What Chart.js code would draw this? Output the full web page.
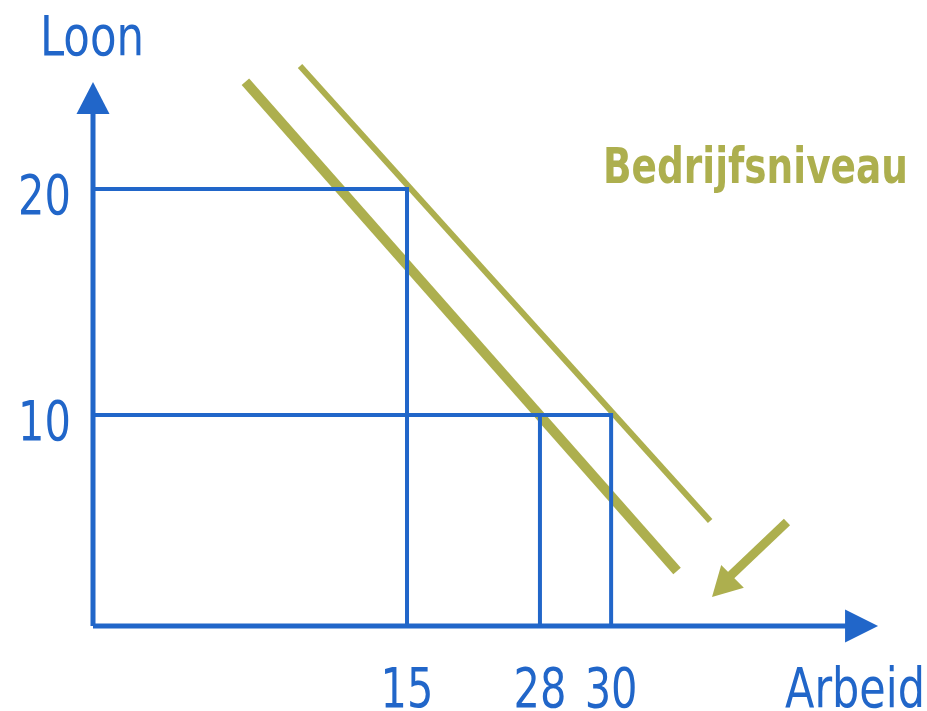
<!DOCTYPE html>
<html>
<head>
<meta charset="utf-8">
<script src="https://cdn.jsdelivr.net/npm/chart.js@4"></script>
<style>
html,body{margin:0;padding:0;background:#fff;}
#wrap{width:927px;height:711px;}
</style>
</head>
<body>
<div id="wrap"><canvas id="c" width="927" height="711"></canvas></div>
<script>
// ---- data (schematic axis units) ----
const xTickLabels = ['15', '28', '30'];
const xTickPos = [15, 21.35, 24.75];
const yTickLabels = ['20', '10'];
const yTickPos = [20, 9.66];
const xAxisTip = 37.5;
const yAxisTip = 24.9;
const demandOld = [{x: 9.89, y: 25.63}, {x: 29.48, y: 4.81}];   // thin line
const demandNew = [{x: 7.28, y: 24.91}, {x: 27.90, y: 2.52}];   // thick line
const shiftStart = {x: 33.15, y: 4.76};
const shiftBase = {x: 30.45, y: 2.3};
const shiftTip = {x: 29.57, y: 1.33};
const axisTitleX = 'Arbeid';
const axisTitleY = 'Loon';
const noteText = 'Bedrijfsniveau';

const BLUE = '#2166c9';
const OLIVE = '#adaf4e';
const FONT = "'Liberation Sans Narrow', 'DejaVu Sans Condensed', 'Roboto', sans-serif";

function seg(a, b) { return [a, b]; }

const datasets = [
  {data: seg({x: 0, y: 0}, {x: xAxisTip - 1, y: 0}), borderColor: BLUE, borderWidth: 5},
  {data: seg({x: 0, y: 0}, {x: 0, y: yAxisTip - 1}), borderColor: BLUE, borderWidth: 5},
  {data: [{x: 0, y: yTickPos[0]}, {x: xTickPos[0], y: yTickPos[0]}, {x: xTickPos[0], y: 0}], borderColor: BLUE, borderWidth: 4},
  {data: [{x: 0, y: yTickPos[1]}, {x: xTickPos[2], y: yTickPos[1]}, {x: xTickPos[2], y: 0}], borderColor: BLUE, borderWidth: 4},
  {data: seg({x: xTickPos[1], y: yTickPos[1]}, {x: xTickPos[1], y: 0}), borderColor: BLUE, borderWidth: 4},
  {data: demandOld, borderColor: OLIVE, borderWidth: 6},
  {data: demandNew, borderColor: OLIVE, borderWidth: 10},
  {data: seg(shiftStart, shiftBase), borderColor: OLIVE, borderWidth: 9}
].map(d => Object.assign({showLine: true, pointRadius: 0, pointHoverRadius: 0, fill: false, tension: 0, borderCapStyle: 'butt', borderJoinStyle: 'miter', clip: false}, d));

function arrowHead(ctx, from, tip, L, W, color) {
  const dx = tip.x - from.x, dy = tip.y - from.y;
  const len = Math.hypot(dx, dy);
  const ux = dx / len, uy = dy / len;
  const nx = -uy, ny = ux;
  const bx = tip.x - ux * L, by = tip.y - uy * L;
  ctx.beginPath();
  ctx.moveTo(tip.x, tip.y);
  ctx.lineTo(bx + nx * W, by + ny * W);
  ctx.lineTo(bx - nx * W, by - ny * W);
  ctx.closePath();
  ctx.fillStyle = color;
  ctx.fill();
}

// draw text squeezed horizontally (narrow look); align: 'left'|'center'|'right'
function narrowText(ctx, text, x, y, align, sx) {
  const w = ctx.measureText(text).width * sx;
  let left = x;
  if (align === 'center') left = x - w / 2;
  else if (align === 'right') left = x - w;
  ctx.save();
  ctx.textAlign = 'left';
  ctx.translate(left, y);
  ctx.scale(sx, 1);
  ctx.fillText(text, 0, 0);
  ctx.restore();
}
function fitText(ctx, text, x, y, width) {
  const sx = width / ctx.measureText(text).width;
  narrowText(ctx, text, x, y, 'left', sx);
}

const overlay = {
  id: 'overlay',
  afterDatasetsDraw(chart) {
    const ctx = chart.ctx, xs = chart.scales.x, ys = chart.scales.y;
    const P = (p) => ({x: xs.getPixelForValue(p.x), y: ys.getPixelForValue(p.y)});
    ctx.save();
    arrowHead(ctx, P({x: 0, y: 0}), P({x: xAxisTip, y: 0}), 33, 16.5, BLUE);
    arrowHead(ctx, P({x: 0, y: 0}), P({x: 0, y: yAxisTip}), 32, 16.5, BLUE);
    arrowHead(ctx, P(shiftStart), P(shiftTip), 29, 16, OLIVE);

    ctx.fillStyle = BLUE;
    ctx.font = '55px ' + FONT;
    ctx.textBaseline = 'alphabetic';
    const sxNum = 0.84;
    xTickLabels.forEach((t, i) => {
      narrowText(ctx, t, xs.getPixelForValue(xTickPos[i]), ys.getPixelForValue(0) + 81, 'center', sxNum);
    });
    yTickLabels.forEach((t, i) => {
      narrowText(ctx, t, xs.getPixelForValue(0) - 22, ys.getPixelForValue(yTickPos[i]) + 25, 'right', sxNum);
    });
    fitText(ctx, axisTitleY, 40, 55, 104);
    fitText(ctx, axisTitleX, 785, ys.getPixelForValue(0) + 81, 140);
    ctx.fillStyle = OLIVE;
    ctx.font = 'bold 50px ' + FONT;
    fitText(ctx, noteText, 603, 183, 305);
    ctx.restore();
  }
};

new Chart(document.getElementById('c'), {
  type: 'scatter',
  data: {datasets},
  options: {
    responsive: false,
    animation: false,
    events: [],
    layout: {padding: {left: 93, right: 38.5, top: 57.9, bottom: 85}},
    plugins: {legend: {display: false}, tooltip: {enabled: false}, title: {display: false}},
    scales: {
      x: {type: 'linear', min: 0, max: 38, display: false},
      y: {type: 'linear', min: 0, max: 26, display: false}
    }
  },
  plugins: [overlay]
});
</script>
</body>
</html>
